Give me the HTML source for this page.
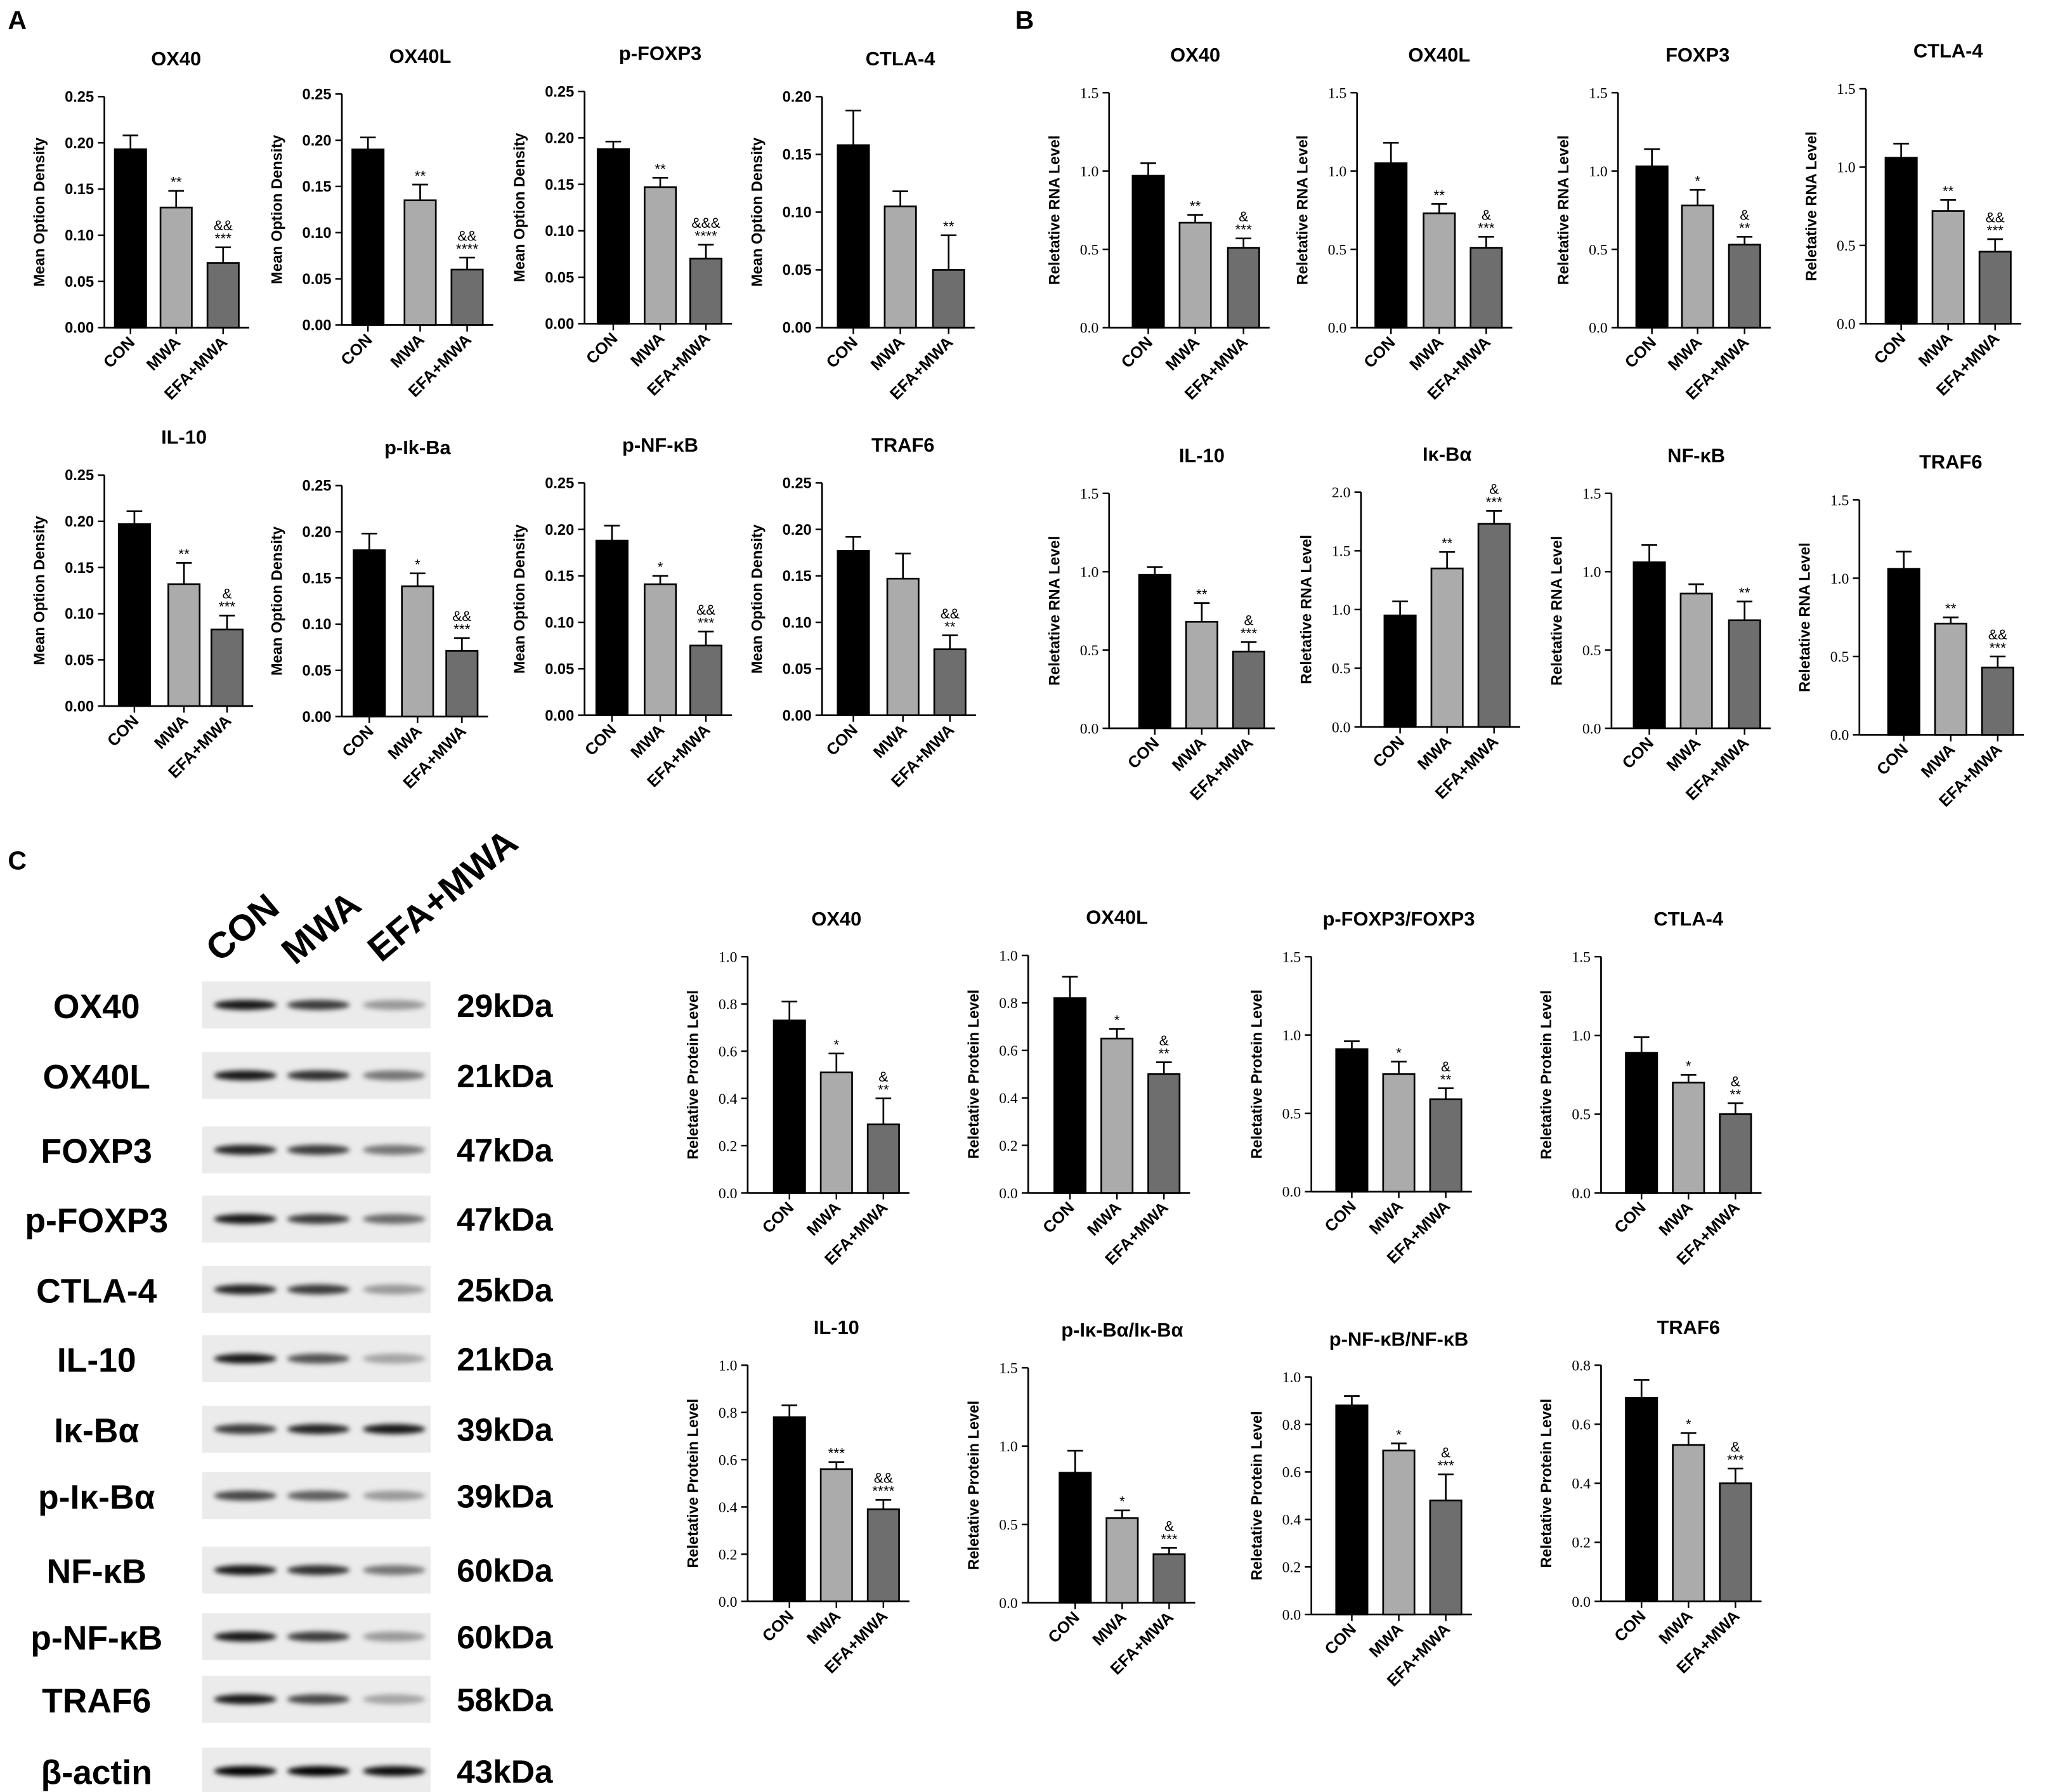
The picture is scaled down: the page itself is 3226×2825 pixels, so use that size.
<!DOCTYPE html>
<html><head><meta charset="utf-8">
<style>
html,body{margin:0;padding:0;background:#fff;}
svg{display:block;font-family:"Liberation Sans",sans-serif;}
</style></head>
<body>
<svg id="fig" xmlns="http://www.w3.org/2000/svg" width="3226" height="2825" viewBox="0 0 1568 1373">
<rect x="0" y="0" width="1568" height="1373" fill="#fff"/>
<text x="6" y="22" font-size="20" font-weight="bold">A</text>
<text x="778" y="22" font-size="20" font-weight="bold">B</text>
<text x="6" y="666" font-size="20" font-weight="bold">C</text>
<g id="charts"></g>
<g id="blot"></g>
</svg>
<script>
const groups = ["CON","MWA","EFA+MWA"];
const panelTitles = ["OX40","OX40L","p-FOXP3","CTLA-4","IL-10","p-Ik-Ba","p-NF-κB","TRAF6",
 "OX40","OX40L","FOXP3","CTLA-4","IL-10","Iκ-Bα","NF-κB","TRAF6",
 "OX40","OX40L","p-FOXP3/FOXP3","CTLA-4","IL-10","p-Iκ-Bα/Iκ-Bα","p-NF-κB/NF-κB","TRAF6"];
const panelValues = [
 [0.193,0.130,0.070],[0.190,0.135,0.060],[0.188,0.147,0.070],[0.158,0.105,0.050],
 [0.197,0.132,0.083],[0.180,0.141,0.071],[0.188,0.141,0.075],[0.177,0.147,0.071],
 [0.97,0.67,0.51],[1.05,0.73,0.51],[1.03,0.78,0.53],[1.06,0.72,0.46],
 [0.98,0.68,0.49],[0.95,1.35,1.73],[1.06,0.86,0.69],[1.06,0.71,0.43],
 [0.73,0.51,0.29],[0.82,0.65,0.50],[0.91,0.75,0.59],[0.89,0.70,0.50],
 [0.78,0.56,0.39],[0.83,0.54,0.31],[0.88,0.69,0.48],[0.69,0.53,0.40]];
const panelErrors = [
 [0.015,0.018,0.017],[0.013,0.017,0.013],[0.008,0.010,0.015],[0.030,0.013,0.030],
 [0.014,0.023,0.015],[0.018,0.014,0.014],[0.016,0.009,0.015],[0.015,0.027,0.015],
 [0.08,0.05,0.06],[0.13,0.06,0.07],[0.11,0.10,0.05],[0.09,0.07,0.08],
 [0.05,0.12,0.06],[0.12,0.14,0.11],[0.11,0.06,0.12],[0.11,0.04,0.07],
 [0.08,0.08,0.11],[0.09,0.04,0.05],[0.05,0.08,0.07],[0.10,0.05,0.07],
 [0.05,0.03,0.04],[0.14,0.05,0.04],[0.04,0.03,0.11],[0.06,0.04,0.05]];
const panelStars = [
 ["","**","***"],["","**","****"],["","**","****"],["","","**"],
 ["","**","***"],["","*","***"],["","*","***"],["","","**"],
 ["","**","***"],["","**","***"],["","*","**"],["","**","***"],
 ["","**","***"],["","**","***"],["","","**"],["","**","***"],
 ["","*","**"],["","*","**"],["","*","**"],["","*","**"],
 ["","***","****"],["","*","***"],["","*","***"],["","*","***"]];
const panelAmps = ["&&","&&","&&&","","&","&&","&&","&&",
 "&","&","&","&&","&","&","","&&",
 "&","&","&","&","&&","&","&","&"];
const panelYMax = [0.25,0.25,0.25,0.20,0.25,0.25,0.25,0.25,
 1.5,1.5,1.5,1.5,1.5,2.0,1.5,1.5, 1.0,1.0,1.5,1.5,1.0,1.5,1.0,0.8];
const panelTickStep = [0.05,0.05,0.05,0.05,0.05,0.05,0.05,0.05,
 0.5,0.5,0.5,0.5,0.5,0.5,0.5,0.5, 0.2,0.2,0.5,0.5,0.2,0.5,0.2,0.2];
const layout = [
 [80,251,74,100,135,171],[262,249,72,282,322,358],[448,248,70,470,506,541],[630,251,74,654,690,727],
 [80,541,364,103,141,174],[262,549,372,283,320,354],[448,548,370,469,506,541],[630,548,370,654,692,728],
 [850,251,71,880,916,953],[1040,251,71,1066,1103,1139],[1240,251,71,1266,1301,1337],[1430,248,68,1457,1493,1529],
 [850,558,378,885,921,957],[1043,557,377,1073,1109,1145],[1235,558,378,1264,1300,1337],[1425,563,383,1459,1495,1531],
 [573,914,733,605,641,677],[788,914,732,820,856,892],[1005,913,733,1036,1072,1108],[1227,914,733,1258,1294,1330],
 [573,1227,1046,605,641,677],[788,1228,1048,824,860,896],[1005,1237,1055,1036,1072,1108],[1227,1227,1046,1258,1294,1330]];
const NS="http://www.w3.org/2000/svg";
function mk(tag,attrs,parent,txt){const e=document.createElementNS(NS,tag);for(const k in attrs)e.setAttribute(k,attrs[k]);if(txt!==undefined)e.textContent=txt;parent.appendChild(e);return e;}
const charts=document.getElementById('charts');
const fills=["#000","#ababab","#6e6e6e"];
for(let p=0;p<24;p++){
 const L=layout[p], ax=L[0], y0=L[1], yt=L[2], ymax=panelYMax[p];
 const sy=v=>y0-(v/ymax)*(y0-yt);
 const g=mk('g',{},charts);
 
 
 const sec=p<8?0:p<16?1:2;
 const title=mk('text',{x:L[4],y:yt-24,'font-size':15,'font-weight':'bold','text-anchor':'middle'},g,panelTitles[p]);
 
 
 const yl=sec===0?"Mean Option Density":sec===1?"Reletative RNA Level":"Reletative Protein Level";
 const ylx=ax-(sec===0?46:38), yly=(y0+yt)/2;
 const ylab=mk('text',{x:ylx,y:yly,'font-size':11.5,'font-weight':'bold','text-anchor':'middle',transform:`rotate(-90 ${ylx} ${yly})`},g,yl);
 
 
 mk('line',{x1:ax,y1:yt,x2:ax,y2:y0,stroke:'#000','stroke-width':1.3},g);
 const xEnd=L[5]+20;
 mk('line',{x1:ax,y1:y0,x2:xEnd,y2:y0,stroke:'#000','stroke-width':1.3},g);
 const step=panelTickStep[p], n=Math.round(ymax/step);
 for(let i=0;i<=n;i++){
  const v=i*step, y=sy(v);
  mk('line',{x1:ax-5,y1:y,x2:ax,y2:y,stroke:'#000','stroke-width':1.2},g);
  const dec=sec===0?2:1;
  const t=mk('text',{x:ax-8,y:y+4,'font-size':11.5,'text-anchor':'end','font-weight':sec===0?'bold':'normal','font-family':sec===0?'Liberation Sans, sans-serif':'Liberation Serif, serif'},g,v.toFixed(dec));
  
  
 }
 for(let b=0;b<3;b++){
  const cx=L[3+b], v=panelValues[p][b], e=panelErrors[p][b], w=24;
  const top=sy(v), et=sy(v+e);
  mk('line',{x1:cx,y1:et,x2:cx,y2:top,stroke:'#000','stroke-width':1.3},g);
  mk('line',{x1:cx-6,y1:et,x2:cx+6,y2:et,stroke:'#000','stroke-width':1.3},g);
  const r=mk('rect',{x:cx-w/2,y:top,width:w,height:y0-top,fill:fills[b],stroke:'#000','stroke-width':1.3},g);
  
  
  mk('line',{x1:cx,y1:y0,x2:cx,y2:y0+5,stroke:'#000','stroke-width':1.2},g);
  const st=panelStars[p][b];
  if(st){const s=mk('text',{x:cx,y:et-3,'font-size':11,'text-anchor':'middle'},g,st);
   
   }
  if(b===2&&panelAmps[p]){const a=mk('text',{x:cx,y:et-(st?13:3),'font-size':11,'text-anchor':'middle'},g,panelAmps[p]);
   
   }
  const lx=cx+4, ly=y0+12;
  const xl=mk('text',{x:lx,y:ly,'font-size':12.5,'font-weight':'bold','text-anchor':'end',transform:`rotate(-45 ${lx} ${ly})`},g,groups[b]);
  
  
 }
}
const blotProteins=["OX40","OX40L","FOXP3","p-FOXP3","CTLA-4","IL-10","Iκ-Bα","p-Iκ-Bα","NF-κB","p-NF-κB","TRAF6","β-actin"];
const blotKda=["29kDa","21kDa","47kDa","47kDa","25kDa","21kDa","39kDa","39kDa","60kDa","60kDa","58kDa","43kDa"];
const blotIntensity=[[0.9,0.75,0.35],[0.9,0.8,0.5],[0.85,0.75,0.5],[0.9,0.75,0.55],[0.85,0.75,0.35],[0.9,0.65,0.3],[0.75,0.85,0.9],[0.7,0.6,0.35],[0.9,0.8,0.5],[0.9,0.75,0.35],[0.9,0.7,0.3],[1,1,0.95]];
const blotY=[770,824,881,934,988,1041,1095,1146,1203,1254,1302,1357];
const blot=document.getElementById('blot');
const defs=mk('defs',{},blot);
const flt=mk('filter',{id:'bl',x:'-20%',y:'-100%',width:'140%',height:'300%'},defs);
mk('feGaussianBlur',{stdDeviation:'2'},flt);
[["CON",168,738],["MWA",226,740],["EFA+MWA",292,738]].forEach(h=>{
 const t=mk('text',{x:h[1],y:h[2],'font-size':28,'font-weight':'bold',transform:`rotate(-40 ${h[1]} ${h[2]})`},blot,h[0]);
 
 
});
const laneX=[188,244,302];
for(let i=0;i<blotProteins.length;i++){
 const y=blotY[i];
 const row=mk('g',{},blot);
 
 
 const lab=mk('text',{x:74,y:y+10,'font-size':26,'font-weight':'bold','text-anchor':'middle'},row,blotProteins[i]);
 
 
 mk('rect',{x:155,y:y-18,width:175,height:36,fill:'#ebebeb'},row);
 for(let b=0;b<3;b++){
  const a=blotIntensity[i][b];
  const band=mk('ellipse',{cx:laneX[b],cy:y,rx:24,ry:3.8,fill:'#000','fill-opacity':a,filter:'url(#bl)'},row);
  
  
 }
 const k=mk('text',{x:350,y:y+9,'font-size':25,'font-weight':'bold'},row,blotKda[i]);
 
 
}
</script>
</body></html>
